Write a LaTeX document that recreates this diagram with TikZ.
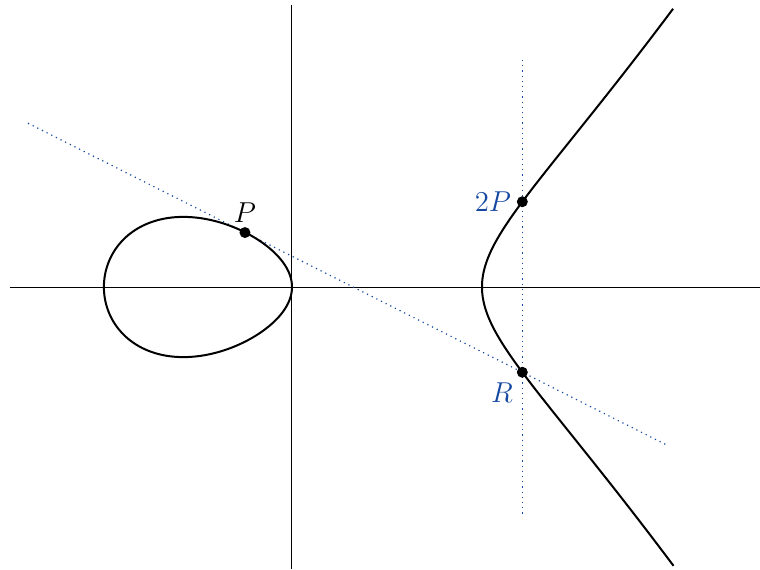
\documentclass[tikz,border=0pt]{standalone}
\usetikzlibrary{calc}
\definecolor{lblue}{RGB}{20,72,160}
\begin{document}
\begin{tikzpicture}[x=95pt,y=56.5pt,
  axis/.style={line width=0.5pt,black},
  curve/.style={line width=1pt,black},
  aux/.style={lblue,dotted,line width=0.6pt},
  pt/.style={circle,fill=black,inner sep=0pt,minimum size=5.5pt},
  lbl/.style={font=\fontsize{15.5}{17}\selectfont,inner sep=2pt}]
\useasboundingbox (-1.5368,-2.4956) rectangle (2.4632,2.5398);
% axes
\coordinate (xl) at (-1.484,0);
\coordinate (xr) at (2.463,0);
\coordinate (yb) at (0,-2.496);
\coordinate (yt) at (0,2.496);
\draw[axis] (xl) -- (xr);
\draw[axis] (yb) -- (yt);
% auxiliary lines
\coordinate (t1) at (-1.3895,1.4494);
\coordinate (t2) at (1.9789,-1.4039);
\coordinate (v1) at (1.21227,2.009);
\coordinate (v2) at (1.21227,-2.018);
\draw[aux] (t1) -- (t2);
\draw[aux] (v1) -- (v2);
% curve y^2 = x^3 - x
\draw[curve,smooth] plot[domain=0:360,samples=181,variable=\t]
  ({-0.99*(1-cos(\t))/2},{sin(\t)/2*sqrt((3-cos(\t))/2)}) -- cycle;
\draw[curve,smooth] plot[domain=-1.004:1.004,samples=161,variable=\s]
  ({1+\s*\s},{\s*sqrt((1+\s*\s)*(2+\s*\s))});
% points
\node[pt] (P) at (-0.24737,0.48191) {};
\node[pt] (R) at (1.21227,-0.75451) {};
\node[pt] (Q) at (1.21227,0.75451) {};
\node[lbl,anchor=south] (Pl) at ([yshift=0pt]P.north) {$P$};
\node[lbl,anchor=east,text=lblue] (Ql) at ([xshift=-0.5pt]Q.west) {$2P$};
\node[lbl,anchor=north east,text=lblue] (Rl) at ([xshift=-0.5pt,yshift=-1pt]R.south west) {$R$};
\end{tikzpicture}
\end{document}
